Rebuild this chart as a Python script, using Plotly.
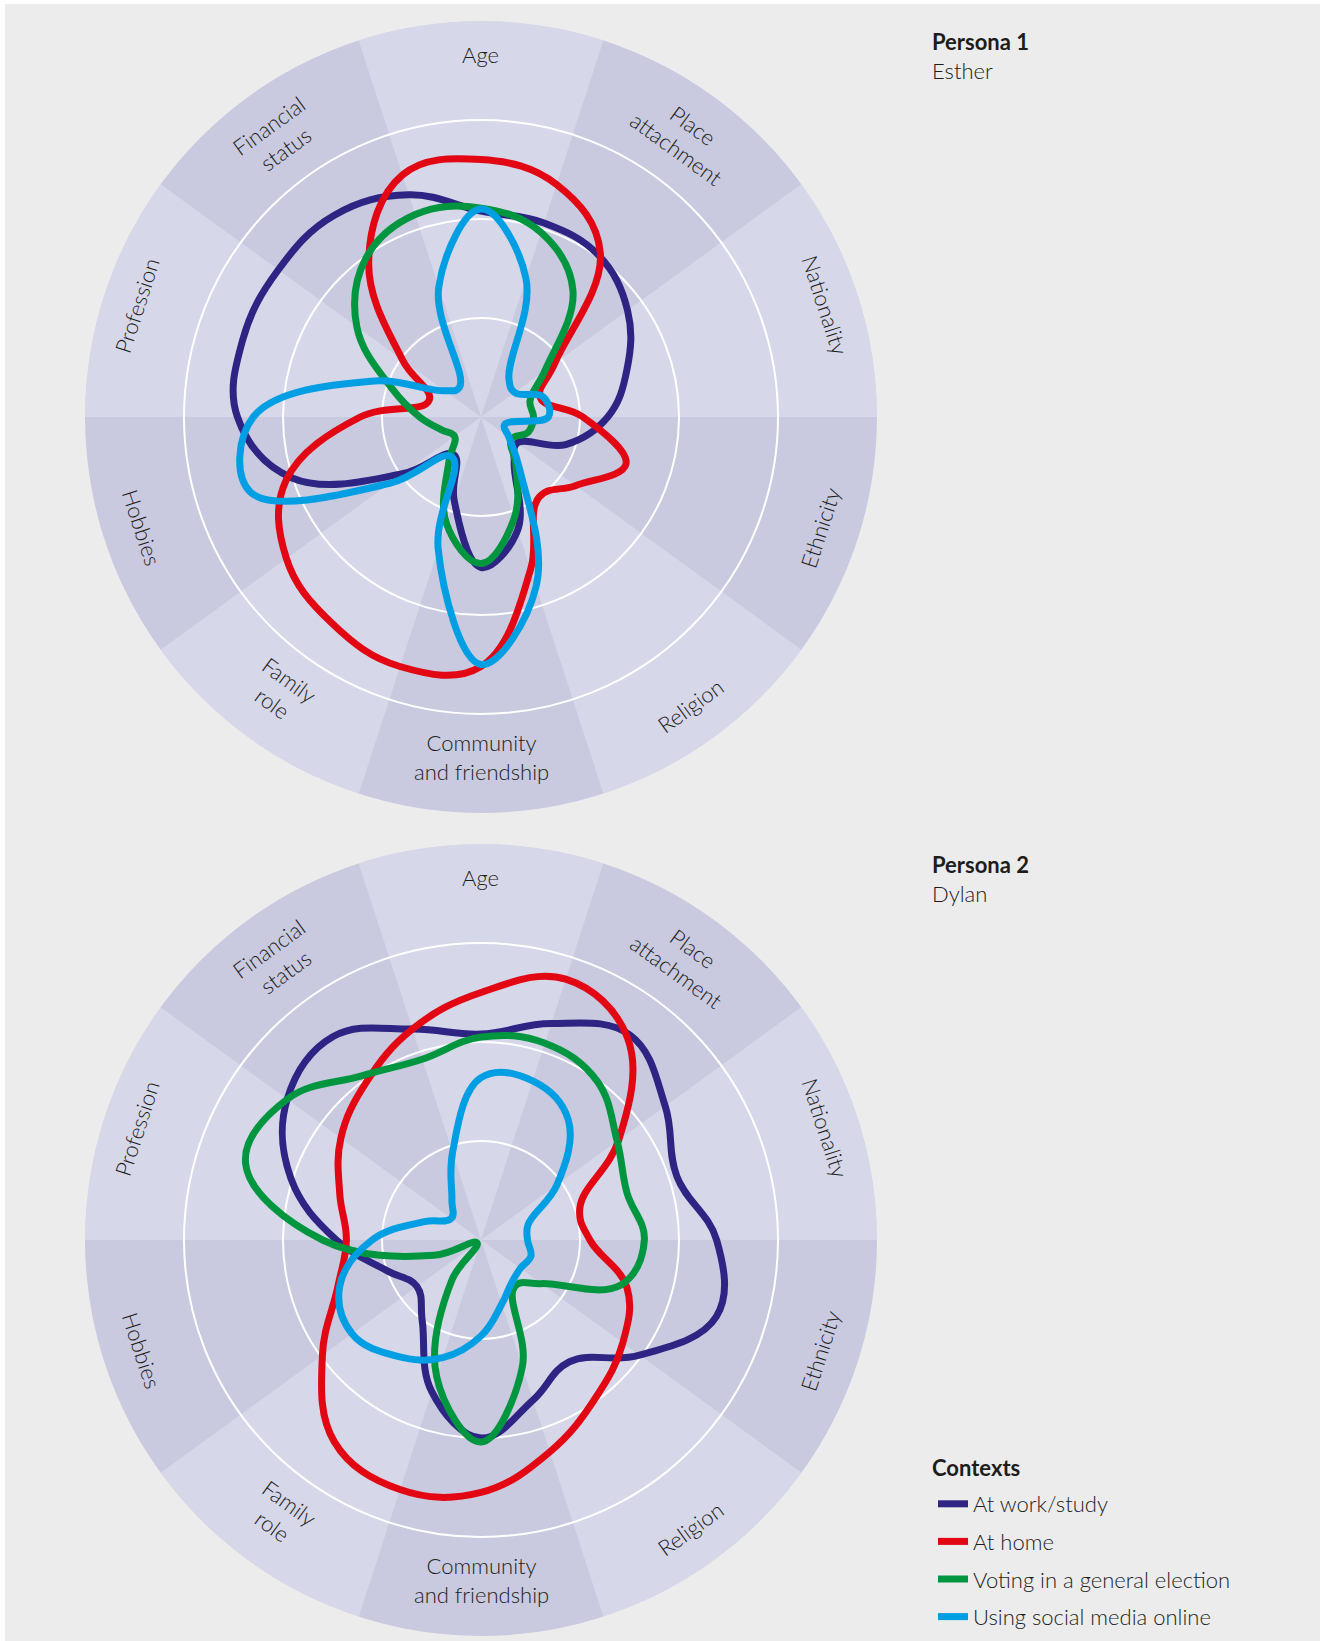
import math
import plotly.graph_objects as go

# ---------------- data ----------------
CATEGORIES = ["Age", "Place<br>attachment", "Nationality", "Ethnicity", "Religion",
              "Community<br>and friendship", "Family<br>role", "Hobbies", "Profession",
              "Financial<br>status"]
CATEGORY_ANGLES = [0, 36, 72, 108, 144, 180, 216, 252, 288, 324]
SAMPLE_ANGLES = [0, 18, 36, 54, 72, 90, 108, 126, 144, 162,
                 180, 198, 216, 234, 252, 270, 288, 306, 324, 342]

CONTEXTS = ["At work/study", "At home", "Voting in a general election", "Using social media online"]
LEGEND_TITLE = "Contexts"
PERSONA_TITLES = ["Persona 1", "Persona 2"]
PERSONA_NAMES = ["Esther", "Dylan"]

ESTHER_WORK = [2.08, 2.06, 2.02, 1.83, 1.55, 1.28, 0.90, 0.45, 0.57, 1.20,
               1.52, 0.88, 0.47, 0.97, 2.00, 2.46, 2.53, 2.53, 2.52, 2.36]
ESTHER_HOME = [2.60, 2.47, 2.05, 0.92, 0.63, 1.03, 1.54, 1.18, 1.00, 1.62,
               2.52, 2.65, 2.57, 2.43, 2.07, 1.22, 0.55, 0.98, 1.93, 2.57]
ESTHER_VOTING = [2.11, 1.96, 1.58, 0.80, 0.52, 0.53, 0.50, 0.38, 0.60, 1.08,
                 1.48, 1.13, 0.55, 0.33, 0.42, 0.62, 0.95, 1.55, 1.98, 2.15]
ESTHER_SOCIAL = [2.10, 1.47, 0.48, 0.42, 0.66, 0.68, 0.25, 0.35, 0.67, 1.80,
                 2.50, 1.40, 0.50, 1.14, 2.45, 2.30, 1.17, 0.45, 0.37, 1.38]

DYLAN_WORK = [2.08, 2.30, 2.56, 2.30, 2.08, 2.38, 2.50, 1.98, 1.52, 1.70,
              2.00, 1.61, 1.01, 0.80, 1.00, 1.46, 2.02, 2.42, 2.54, 2.24]
DYLAN_HOME = [2.50, 2.77, 2.52, 1.72, 1.05, 1.10, 1.55, 1.77, 1.97, 2.25,
              2.55, 2.65, 2.52, 1.98, 1.52, 1.36, 1.50, 1.75, 1.97, 2.24]
DYLAN_VOTING = [2.05, 2.09, 1.99, 1.70, 1.55, 1.65, 1.48, 0.75, 0.58, 1.35,
                2.04, 1.45, 0.50, 0.05, 0.50, 1.60, 2.50, 2.42, 2.05, 1.92]
DYLAN_SOCIAL = [1.64, 1.69, 1.50, 0.95, 0.50, 0.47, 0.53, 0.49, 0.53, 0.68,
                0.97, 1.25, 1.45, 1.61, 1.50, 1.10, 0.60, 0.37, 0.50, 0.93]

PERSONA_SERIES = [
    [ESTHER_WORK, ESTHER_HOME, ESTHER_VOTING, ESTHER_SOCIAL],
    [DYLAN_WORK, DYLAN_HOME, DYLAN_VOTING, DYLAN_SOCIAL],
]

# ---------------- style / layout ----------------
COLORS = ["#2d2483", "#e30613", "#009640", "#009fe3"]
SECTOR_LIGHT = "#d6d7e9"
SECTOR_DARK = "#c9cadf"
PAGE_BG = "#ececec"
TEXT = "#1d1d1b"
FONT = "Lato"
FS = 22

W, H = 1315, 1637          # figure size
OX, OY = 5, 4              # page offset of the figure (body margin)
R_PX = 396                 # outer radius in px
RMAX = 4
U = R_PX / RMAX
CENTERS = [(481, 417), (481, 1240)]
LABEL_LIFT = 3             # px, move labels "up" in their own rotated frame


def px_to_paper(x, y):
    return (x - OX) / W, 1 - (y - OY) / H


fig = go.Figure()
annotations = []
layout_polars = {}

for i, (cx, cy) in enumerate(CENTERS):
    sec_key = "polar" if i == 0 else f"polar{2 * i + 1}"
    line_key = f"polar{2 * i + 2}"
    x0, y1 = px_to_paper(cx - R_PX, cy - R_PX)
    x1, y0 = px_to_paper(cx + R_PX, cy + R_PX)
    domain = dict(x=[x0, x1], y=[max(0, y0), min(1, y1)])

    # sector background
    fig.add_trace(go.Barpolar(
        r=[RMAX] * len(CATEGORY_ANGLES), theta=CATEGORY_ANGLES,
        width=[360 / len(CATEGORY_ANGLES)] * len(CATEGORY_ANGLES),
        marker=dict(color=[SECTOR_LIGHT if k % 2 == 0 else SECTOR_DARK
                           for k in range(len(CATEGORY_ANGLES))],
                    line=dict(width=0)),
        subplot=sec_key, showlegend=False, hoverinfo="skip"))

    # context curves
    for ctx, color, vals in zip(CONTEXTS, COLORS, PERSONA_SERIES[i]):
        fig.add_trace(go.Scatterpolar(
            r=vals + [vals[0]], theta=SAMPLE_ANGLES + [SAMPLE_ANGLES[0]],
            mode="lines", name=ctx, legendgroup=ctx, showlegend=(i == 0),
            line=dict(color=color, width=7, shape="spline", smoothing=1.15),
            subplot=line_key, hoverinfo="skip"))

    common_ang = dict(rotation=90, direction="clockwise", showgrid=False,
                      showticklabels=False, ticks="", showline=False)
    layout_polars[sec_key] = dict(
        domain=domain, bgcolor=SECTOR_LIGHT, bargap=0,
        radialaxis=dict(range=[0, RMAX], visible=False),
        angularaxis=dict(common_ang, visible=False))
    layout_polars[line_key] = dict(
        domain=domain, bgcolor="rgba(0,0,0,0)",
        radialaxis=dict(range=[0, RMAX], tickvals=[1, 2, 3], showticklabels=False,
                        ticks="", showline=False, gridcolor="white", gridwidth=1.6),
        angularaxis=common_ang)

    # category labels around the rim
    for lab, ang in zip(CATEGORIES, CATEGORY_ANGLES):
        rl = 3.46 if "<br>" in lab else 3.63
        a = math.radians(ang)
        if ang <= 90:
            ta = ang
        elif ang < 270:
            ta = ang - 180
        else:
            ta = ang - 360
        t = math.radians(ta)
        lx = cx + rl * U * math.sin(a) + LABEL_LIFT * math.sin(t)
        ly = cy - rl * U * math.cos(a) - LABEL_LIFT * math.cos(t)
        ax_, ay_ = px_to_paper(lx, ly)
        annotations.append(dict(
            x=ax_, y=ay_, xref="paper", yref="paper", text=lab, showarrow=False,
            xanchor="center", yanchor="middle", textangle=ta,
            font=dict(family=FONT, size=FS, color=TEXT, weight=300)))

    # persona titles
    tx, ty = px_to_paper(930, cy - 376)
    annotations.append(dict(
        x=tx, y=ty, xref="paper", yref="paper", text=PERSONA_TITLES[i], showarrow=False,
        xanchor="left", yanchor="middle",
        font=dict(family=FONT, size=FS, color=TEXT, weight=700)))
    nx, ny = px_to_paper(930, cy - 347)
    annotations.append(dict(
        x=nx, y=ny, xref="paper", yref="paper", text=PERSONA_NAMES[i], showarrow=False,
        xanchor="left", yanchor="middle",
        font=dict(family=FONT, size=FS, color=TEXT, weight=300)))

# legend title as its own text
ltx, lty = px_to_paper(930, 1467)
annotations.append(dict(
    x=ltx, y=lty, xref="paper", yref="paper", text=LEGEND_TITLE, showarrow=False,
    xanchor="left", yanchor="middle",
    font=dict(family=FONT, size=FS, color=TEXT, weight=700)))

lgx, lgy = px_to_paper(933, 1483)

fig.update_layout(
    width=W, height=H, autosize=False,
    margin=dict(l=0, r=0, t=0, b=0),
    paper_bgcolor=PAGE_BG, plot_bgcolor=PAGE_BG,
    annotations=annotations,
    legend=dict(x=lgx, y=lgy, xanchor="left", yanchor="top",
                bgcolor="rgba(0,0,0,0)", traceorder="grouped", tracegroupgap=6,
                itemwidth=30,
                font=dict(family=FONT, size=FS, color=TEXT, weight=300)),
    **layout_polars,
)

fig.write_html("out.html",
               post_script="document.body.style.margin='4px 0 0 5px';document.body.style.overflow='hidden';")
